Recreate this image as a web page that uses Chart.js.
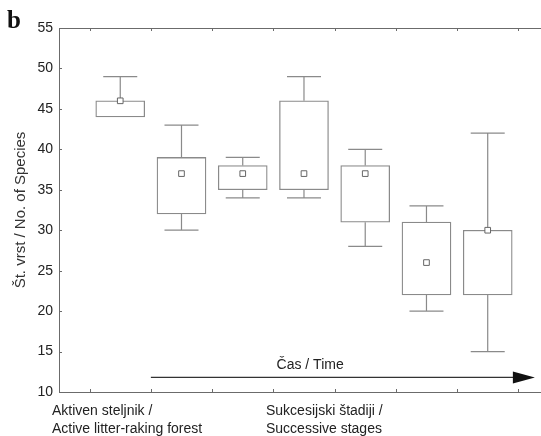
<!DOCTYPE html>
<html>
<head>
<meta charset="utf-8">
<script src="https://cdn.jsdelivr.net/npm/chart.js@4.4.1/dist/chart.umd.min.js"></script>
<style>
  html, body { margin: 0; padding: 0; background: #fff; }
  #wrap { width: 541px; height: 436px; }
</style>
</head>
<body>
<div id="wrap"><canvas id="c" width="541" height="436"></canvas></div>
<script>
// data
const groups = [1, 2, 3, 4, 5, 6, 7];
const whiskerHigh = [49, 43, 39, 49, 40, 33, 42];
const boxHigh = [46, 39, 38, 46, 38, 31, 30];
const boxLow = [44, 32, 35, 35, 31, 22, 22];
const whiskerLow = [44, 30, 34, 34, 28, 20, 15];
const markers = [46, 37, 37, 37, 37, 26, 30];

const groupLabels = [
  ['Aktiven steljnik /', 'Active litter-raking forest'],
  ['Sukcesijski štadiji /', 'Successive stages']
];
const timeLabel = 'Čas / Time';
const yTitle = 'Št. vrst / No. of Species';
const panelLetter = 'b';

// category boundaries used for the small x tick marks
const xEdges = groups.map(g => g - 0.5).concat([groups[groups.length - 1] + 0.5]);

const FONT = '"Liberation Sans", Arial, sans-serif';
const axisColor = '#6b6b6b';
const boxColor = '#8a8a8a';

const extras = {
  id: 'extras',
  beforeDatasetsDraw(chart) {
    // whiskers and caps
    const { ctx } = chart;
    const x = chart.scales.x, y = chart.scales.y;
    ctx.save();
    ctx.strokeStyle = boxColor;
    ctx.lineWidth = 1.2;
    groups.forEach((g, i) => {
      const px = x.getPixelForValue(g);
      const pairs = [[boxHigh[i], whiskerHigh[i]], [boxLow[i], whiskerLow[i]]];
      pairs.forEach(([from, to]) => {
        if (from === to) return;
        ctx.beginPath();
        ctx.moveTo(px, y.getPixelForValue(from));
        ctx.lineTo(px, y.getPixelForValue(to));
        ctx.moveTo(px - 17, y.getPixelForValue(to));
        ctx.lineTo(px + 17, y.getPixelForValue(to));
        ctx.stroke();
      });
    });
    ctx.restore();
  },
  afterDraw(chart) {
    const { ctx, chartArea } = chart;
    const x = chart.scales.x, y = chart.scales.y;
    ctx.save();
    ctx.strokeStyle = axisColor;
    ctx.lineWidth = 1;

    // top frame line
    ctx.beginPath();
    ctx.moveTo(chartArea.left, chartArea.top + 0.5);
    ctx.lineTo(chartArea.right, chartArea.top + 0.5);
    ctx.stroke();

    // inward tick marks
    ctx.beginPath();
    xEdges.forEach(v => {
      const px = Math.round(x.getPixelForValue(v)) + 0.5;
      ctx.moveTo(px, chartArea.bottom);
      ctx.lineTo(px, chartArea.bottom - 3);
      ctx.moveTo(px, chartArea.top);
      ctx.lineTo(px, chartArea.top + 3);
    });
    y.ticks.forEach(t => {
      const py = Math.round(y.getPixelForValue(t.value)) + 0.5;
      ctx.moveTo(chartArea.left, py);
      ctx.lineTo(chartArea.left + 3, py);
    });
    ctx.stroke();

    // time arrow
    const ay = y.getPixelForValue(11.8);
    const ax0 = x.getPixelForValue(1.5);
    const ax1 = x.getPixelForValue(7.77);
    ctx.strokeStyle = '#333';
    ctx.fillStyle = '#111';
    ctx.lineWidth = 1.3;
    ctx.beginPath();
    ctx.moveTo(ax0, ay);
    ctx.lineTo(ax1 - 20, ay);
    ctx.stroke();
    ctx.beginPath();
    ctx.moveTo(ax1, ay);
    ctx.lineTo(ax1 - 22, ay - 6);
    ctx.lineTo(ax1 - 22, ay + 6);
    ctx.closePath();
    ctx.fill();

    ctx.fillStyle = '#222';
    ctx.font = '14px ' + FONT;
    ctx.textAlign = 'center';
    ctx.textBaseline = 'middle';
    ctx.fillText(timeLabel, x.getPixelForValue(4.1), ay - 12);

    // group labels under the axis
    ctx.textAlign = 'left';
    ctx.textBaseline = 'middle';
    const starts = [52, 266];
    groupLabels.forEach((lines, i) => {
      lines.forEach((s, j) => {
        ctx.fillText(s, starts[i], chartArea.bottom + 19 + j * 18);
      });
    });

    // panel letter
    ctx.fillStyle = '#111';
    ctx.font = 'bold 25px "Liberation Serif", "DejaVu Serif", serif';
    ctx.textBaseline = 'alphabetic';
    ctx.fillText(panelLetter, 7, 28);
    ctx.restore();
  }
};

new Chart(document.getElementById('c'), {
  type: 'bar',
  data: {
    datasets: [
      {
        type: 'bar',
        data: groups.map((g, i) => ({ x: g, y: [boxLow[i], boxHigh[i]] })),
        backgroundColor: '#fff',
        borderColor: boxColor,
        borderWidth: 1.3,
        borderSkipped: false,
        barThickness: 49,
        order: 2
      },
      {
        type: 'scatter',
        data: groups.map((g, i) => ({ x: g, y: markers[i] })),
        pointStyle: 'rect',
        pointRadius: 4,
        backgroundColor: '#fff',
        borderColor: '#666',
        borderWidth: 1,
        order: 1
      }
    ]
  },
  options: {
    responsive: false,
    animation: false,
    layout: { autoPadding: false, padding: { top: 28, bottom: 44, left: 0, right: 0 } },
    plugins: { legend: { display: false }, tooltip: { enabled: false } },
    scales: {
      x: {
        type: 'linear',
        min: 0,
        max: 7.87,
        offset: false,
        ticks: { display: false },
        grid: { display: false, drawTicks: false },
        border: { display: true, color: axisColor, width: 1 },
        afterFit: s => { s.height = 0; }
      },
      y: {
        min: 10,
        max: 55,
        ticks: { stepSize: 5, color: '#222', padding: 6, font: { family: FONT, size: 14 } },
        grid: { display: false, drawTicks: false },
        border: { display: true, color: axisColor, width: 1 },
        title: {
          display: true,
          text: yTitle,
          color: '#333',
          font: { family: FONT, size: 15 },
          padding: { top: 12, bottom: 0 }
        },
        afterFit: s => { s.width = 59; }
      }
    }
  },
  plugins: [extras]
});
</script>
</body>
</html>
